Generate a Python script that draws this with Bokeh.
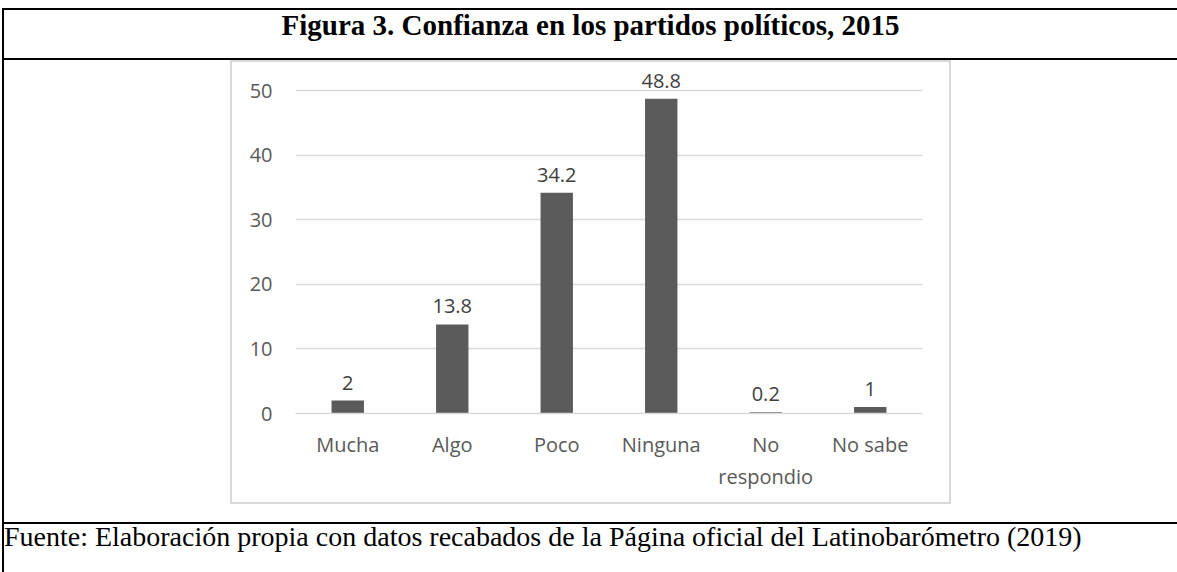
from bokeh.plotting import figure
from bokeh.models import FactorRange, Range1d, FixedTicker, ColumnDataSource, Div, Spacer
from bokeh.layouts import column, row
from bokeh.core.properties import value
from bokeh.embed import file_html
from bokeh.resources import INLINE

# ---- data ----
categories = ["Mucha", "Algo", "Poco", "Ninguna", "No\nrespondio", "No sabe"]
values = [2, 13.8, 34.2, 48.8, 0.2, 1]
value_labels = ["2", "13.8", "34.2", "48.8", "0.2", "1"]
y_ticks = [0, 10, 20, 30, 40, 50]
title_text = "Figura 3. Confianza en los partidos políticos, 2015"
source_text = "Fuente: Elaboración propia con datos recabados de la Página oficial del Latinobarómetro (2019)"

src = ColumnDataSource(dict(cat=categories, val=values, lbl=value_labels))

# ---- chart (the light-grey boxed area) ----
p = figure(width=721, height=444,
           x_range=FactorRange(factors=categories, range_padding=0),
           y_range=Range1d(0, 54.4),
           output_backend="svg", toolbar_location=None,
           min_border_left=65, min_border_right=29,
           min_border_top=2, min_border_bottom=91,
           margin=0,
           styles={"background-color": "white",
                   "box-shadow": "inset 0 0 0 2px #d9d9d9"})
p.outline_line_color = None
p.background_fill_color = None
p.border_fill_color = None

p.yaxis.ticker = FixedTicker(ticks=y_ticks)
p.yaxis.axis_line_color = None
p.yaxis.major_tick_line_color = None
p.yaxis.major_tick_out = 0
p.yaxis.minor_tick_line_color = None
p.yaxis.major_label_text_font = "Open Sans"
p.yaxis.major_label_text_font_size = "20px"
p.yaxis.major_label_text_color = "#595959"
p.yaxis.major_label_standoff = 23

p.xaxis.axis_line_color = "#d9d9d9"
p.xaxis.axis_line_width = 1.5
p.xaxis.major_tick_line_color = None
p.xaxis.major_tick_out = 0
p.xaxis.minor_tick_line_color = None
p.xaxis.major_label_text_font = "Open Sans"
p.xaxis.major_label_text_font_size = "20px"
p.xaxis.major_label_text_color = "#595959"
p.xaxis.major_label_standoff = 17

p.xgrid.grid_line_color = None
p.ygrid.grid_line_color = "#d9d9d9"
p.ygrid.grid_line_width = 1.5

p.vbar(x="cat", top="val", width=0.31, source=src,
       fill_color="#5b5b5b", line_color=None)

p.text(x="cat", y="val", text="lbl", source=src,
       text_align="center", text_baseline="alphabetic", y_offset=-18,
       text_font=value("Open Sans"), text_font_size="20px", text_color="#404040")

# ---- table frame ----
title_div = Div(text=title_text, width=1175, height=52, margin=0,
                styles={"box-sizing": "border-box",
                        "border-top": "2px solid black",
                        "border-left": "2px solid black",
                        "border-bottom": "2px solid black",
                        "text-align": "center",
                        "font-family": "'Liberation Serif'",
                        "font-weight": "bold",
                        "font-size": "29px",
                        "line-height": "30px",
                        "color": "black",
                        "white-space": "nowrap",
                        "overflow": "hidden"})

left_bar = Div(text="", width=2, height=462, margin=0,
               styles={"background-color": "black"})
gap = Spacer(width=226, height=462, margin=0)
chart_row = row(left_bar, gap, p, margin=0, spacing=0)

footer_div = Div(text=source_text, width=1175, height=50, margin=0,
                 styles={"box-sizing": "border-box",
                         "border-top": "2px solid black",
                         "border-left": "2px solid black",
                         "padding-left": "0px",
                         "font-family": "'Liberation Serif'",
                         "font-size": "28px",
                         "line-height": "25px",
                         "color": "black",
                         "white-space": "nowrap",
                         "overflow": "hidden"})

layout = column(title_div, chart_row, footer_div, margin=(8, 0, 0, 2), spacing=0)

open("out.html", "w").write(file_html(layout, INLINE))
